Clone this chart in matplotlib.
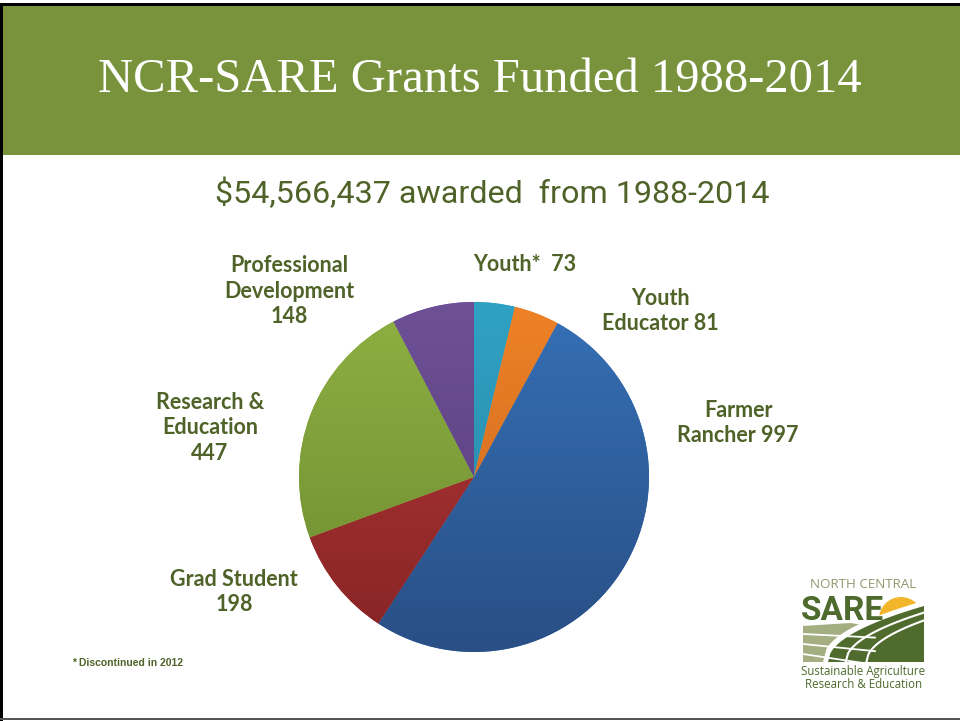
import numpy as np
import matplotlib
matplotlib.use("Agg")
import matplotlib.pyplot as plt
from matplotlib.patches import Rectangle, Circle, Polygon

# ---------------- data ----------------
categories = ["Youth*", "Youth Educator", "Farmer Rancher", "Grad Student",
              "Research & Education", "Professional Development"]
values = [73, 81, 997, 198, 447, 148]
label_texts = ["Youth*  73", "Youth\nEducator 81", "Farmer\nRancher 997",
               "Grad Student\n198", "Research &\nEducation\n447",
               "Professional\nDevelopment\n148"]
title = "NCR-SARE Grants Funded 1988-2014"
subtitle = "$54,566,437 awarded  from 1988-2014"
footnote = "* Discontinued in 2012"

# ---------------- style ----------------
top_colors = ["#2FA2C4", "#EE8226", "#3570B6", "#B33838", "#8DB042", "#6E5096"]
bot_colors = ["#2A829E", "#C6631E", "#294F85", "#872424", "#6C8A30", "#553C7B"]
label_pos = [(525, 264), (660, 311), (738, 423), (234, 592), (210, 428), (289, 291)]
text_green = "#4F6228"
band_green = "#78933C"

W, H = 960, 721
fig = plt.figure(figsize=(W / 100, H / 100), dpi=100)
fig.patch.set_facecolor("white")

# background axes in pixel coords
bg = fig.add_axes([0, 0, 1, 1])
bg.set_xlim(0, W)
bg.set_ylim(H, 0)
bg.axis("off")
bg.add_patch(Rectangle((0, 5), W, 150, facecolor=band_green, edgecolor="none"))
bg.add_patch(Rectangle((0, 3), W, 3, facecolor="black", edgecolor="none"))
bg.add_patch(Rectangle((0, 3), 3, H, facecolor="black", edgecolor="none"))
bg.add_patch(Rectangle((0, 717.5), W, 2, facecolor="#555555", edgecolor="none"))


def px(x, y):
    return x / W, 1 - y / H


fig.text(*px(480, 80), title, ha="center", va="center", color="white",
         fontsize=35, family=["Liberation Serif", "DejaVu Serif"])
fig.text(*px(492, 193), subtitle, ha="center", va="center", color=text_green,
         fontsize=23.2, family=["Roboto", "DejaVu Sans"])
fig.text(*px(128, 663), footnote, ha="center", va="center", color=text_green,
         fontsize=7.5, fontweight="bold", family=["Liberation Sans", "DejaVu Sans"])

for t, (x, y) in zip(label_texts, label_pos):
    fig.text(*px(x, y), t, ha="center", va="center", color=text_green,
             fontsize=15.5, fontweight="bold", linespacing=1.24,
             multialignment="center", family=["Lato", "DejaVu Sans"])

# ---------------- pie ----------------
cx, cy, r = 474, 477, 175
ax = fig.add_axes([(cx - r) / W, (H - cy - r) / H, 2 * r / W, 2 * r / H])
wedges, _ = ax.pie(values, startangle=90, counterclock=False, radius=1,
                   colors=top_colors, wedgeprops=dict(linewidth=0))
ax.set_xlim(-1, 1)
ax.set_ylim(-1, 1)
ax.set_aspect("auto")
ax.axis("off")
grad = np.linspace(0, 1, 256).reshape(-1, 1)
for w, c1, c2 in zip(wedges, top_colors, bot_colors):
    a = np.array(matplotlib.colors.to_rgb(c1))
    b = np.array(matplotlib.colors.to_rgb(c2))
    img = a[None, None, :] * (1 - grad[:, :, None]) + b[None, None, :] * grad[:, :, None]
    im = ax.imshow(img, extent=[-1, 1, -1, 1], origin="upper", aspect="auto", zorder=2)
    im.set_clip_path(w)

# ---------------- logo ----------------
lg = fig.add_axes([795 / W, 1 - 700 / H, 135 / W, 130 / H])
lg.set_xlim(795, 930)
lg.set_ylim(700, 570)
lg.axis("off")
lg.text(863.5, 585, "NORTH CENTRAL", ha="center", va="center", color="#8E9A6E",
        fontsize=9.6, family=["Open Sans", "DejaVu Sans"])
lg.text(801, 611, "SARE", ha="left", va="center", color="#4E6A2C",
        fontsize=24, fontweight="bold", family=["Roboto", "DejaVu Sans"])
lg.add_patch(Circle((901, 619), 22, facecolor="#F3B62B", edgecolor="none"))
# light field
lg.add_patch(Polygon([(803, 626), (850, 623), (885, 628), (885, 662), (803, 662)],
                     closed=True, facecolor="#A4AE80", edgecolor="none"))
for k in range(3):
    xs = np.linspace(803, 875, 30)
    ys = 634 + k * 10 + (xs - 803) * 0.05 * (k + 1)
    lg.plot(xs, ys, color="white", lw=1.3)
# dark field
xs = np.linspace(828, 924, 40)
ys = 662 - 56 * np.sqrt((xs - 828) / 96.0)
poly = list(zip(xs, ys)) + [(924, 662)]
lg.add_patch(Polygon([(823, 662)] + list(zip(xs - 4, ys - 4)) + [(924, 600), (924, 662)],
                     closed=True, facecolor="white", edgecolor="none"))
lg.add_patch(Polygon(poly, closed=True, facecolor="#4F6B2D", edgecolor="none"))
for off in (11, 24):
    x2 = np.linspace(828 + off * 1.6, 924, 30)
    y2 = 662 - (56 - off * 0.6) * np.sqrt((x2 - x2[0]) / (924 - x2[0]))
    lg.plot(x2, y2, color="white", lw=1.5)
lg.text(863.5, 671, "Sustainable Agriculture", ha="center", va="center",
        color="#4E6A2C", fontsize=8.3, family=["Open Sans", "DejaVu Sans"])
lg.text(863.5, 684, "Research & Education", ha="center", va="center",
        color="#4E6A2C", fontsize=8.3, family=["Open Sans", "DejaVu Sans"])

fig.savefig("out.png", dpi=100)
